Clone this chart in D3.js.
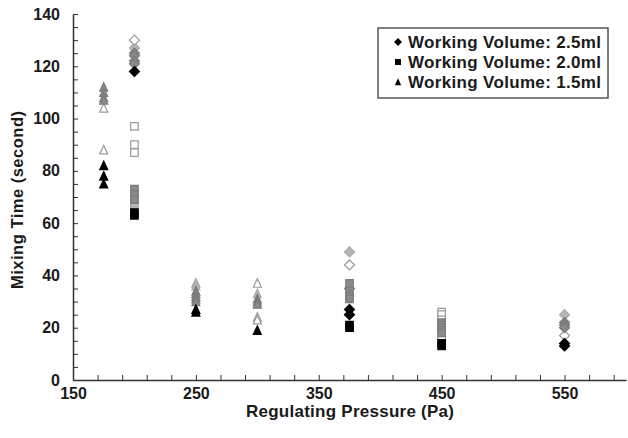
<!DOCTYPE html>
<html>
<head>
<meta charset="utf-8">
<script src="https://cdn.jsdelivr.net/npm/d3@7"></script>
<style>
  body { margin: 0; background: #fff; }
  text { font-family: "Liberation Sans", Arial, sans-serif; font-weight: bold; fill: #1a1a1a; }
  .axis path, .axis line { stroke: #333; }
</style>
</head>
<body>
<svg id="chart" width="628" height="438"></svg>
<script>
// tick labels
const xTicks = [150, 250, 350, 450, 550];
const yTicks = [0, 20, 40, 60, 80, 100, 120, 140];

// Working Volume 2.5ml (diamonds), by shade
const diamondBlack = [[200, 118], [375, 27], [375, 25], [550, 14], [550, 13]];
const diamondGray = [[200, 125], [200, 124], [200, 122], [200, 121], [375, 35], [550, 22], [550, 21], [550, 20]];
const diamondLight = [[200, 127], [375, 49], [550, 25]];
const diamondOpen = [[200, 130], [375, 44], [550, 17]];

// Working Volume 2.0ml (squares)
const squareBlack = [[200, 64], [200, 63], [375, 21], [375, 20], [450, 14], [450, 13]];
const squareGray = [[200, 73], [200, 71], [200, 69], [375, 37], [375, 33], [375, 32], [375, 31], [450, 22], [450, 21], [450, 20], [450, 19], [450, 18]];
const squareLight = [[200, 67]];
const squareOpen = [[200, 97], [200, 90], [200, 87], [450, 26], [450, 25], [450, 23], [450, 17], [450, 16]];

// Working Volume 1.5ml (triangles)
const triangleBlack = [[175, 82], [175, 78], [175, 75], [250, 27], [250, 26], [300, 19]];
const triangleGray = [[175, 112], [175, 110], [175, 108], [175, 107], [250, 34], [250, 33], [250, 32], [250, 31], [250, 30], [300, 31], [300, 30], [300, 29]];
const triangleLight = [[250, 36], [300, 33]];
const triangleOpen = [[175, 104], [175, 88], [250, 37], [300, 37], [300, 24], [300, 23]];

const legendLabels = ['Working Volume: 2.5ml', 'Working Volume: 2.0ml', 'Working Volume: 1.5ml'];

const svg = d3.select('#chart');
const margins = { left: 73, top: 14, right: 2, bottom: 58 };
const width = +svg.attr('width'), height = +svg.attr('height');

const x = d3.scaleLinear().domain([150, 600]).range([margins.left, width - margins.right]);
const y = d3.scaleLinear().domain([0, 140]).range([height - margins.bottom, margins.top]);

// excel-like diamond (square turned 45 degrees)
const diamondType = {
  draw(ctx, size) {
    const r = Math.sqrt(size / 2);
    ctx.moveTo(0, -r); ctx.lineTo(r, 0); ctx.lineTo(0, r); ctx.lineTo(-r, 0); ctx.closePath();
  }
};
const triangleType = {
  draw(ctx, size) {
    const h = Math.sqrt(size);
    ctx.moveTo(0, -h / 2 - 0.5); ctx.lineTo(h / 2, h / 2); ctx.lineTo(-h / 2, h / 2); ctx.closePath();
  }
};

const shades = {
  black: { fill: '#000', stroke: '#000' },
  gray: { fill: '#8a8a8a', stroke: '#7a7a7a' },
  light: { fill: '#b5b5b5', stroke: '#a8a8a8' },
  open: { fill: '#fff', stroke: '#9a9a9a' }
};

const series = [
  { type: diamondType, size: 50, shade: 'light', data: diamondLight },
  { type: diamondType, size: 50, shade: 'open', data: diamondOpen },
  { type: diamondType, size: 50, shade: 'gray', data: diamondGray },
  { type: diamondType, size: 50, shade: 'black', data: diamondBlack },
  { type: d3.symbolSquare, size: 56, shade: 'open', data: squareOpen },
  { type: d3.symbolSquare, size: 56, shade: 'light', data: squareLight },
  { type: d3.symbolSquare, size: 56, shade: 'gray', data: squareGray },
  { type: d3.symbolSquare, size: 56, shade: 'black', data: squareBlack },
  { type: triangleType, size: 64, shade: 'open', data: triangleOpen },
  { type: triangleType, size: 64, shade: 'light', data: triangleLight },
  { type: triangleType, size: 64, shade: 'gray', data: triangleGray },
  { type: triangleType, size: 64, shade: 'black', data: triangleBlack }
];

// y axis: minor ticks pointing inward, labels outside
svg.append('g')
  .attr('class', 'axis')
  .attr('transform', `translate(${margins.left},0)`)
  .call(d3.axisRight(y).tickValues(d3.range(0, 141, 5)).tickSize(5).tickSizeOuter(0).tickFormat(''));
svg.append('g')
  .attr('transform', `translate(${margins.left},0)`)
  .call(d3.axisLeft(y).tickValues(yTicks).tickSize(0).tickPadding(13))
  .call(g => g.select('.domain').remove())
  .selectAll('text').style('font-size', '16px').style('font-family', null);

// x axis
svg.append('g')
  .attr('class', 'axis')
  .attr('transform', `translate(0,${y(0)})`)
  .call(d3.axisTop(x).tickValues(d3.range(150, 601, 20)).tickSize(5).tickSizeOuter(0).tickFormat(''));
svg.append('g')
  .attr('transform', `translate(0,${y(0)})`)
  .call(d3.axisBottom(x).tickValues(xTicks).tickSize(0).tickPadding(8))
  .call(g => g.select('.domain').remove())
  .selectAll('text').style('font-size', '16px').style('font-family', null);
svg.selectAll('.axis .domain').style('stroke-width', 1.5);

// axis titles
svg.append('text')
  .attr('x', 350)
  .attr('y', 417)
  .attr('text-anchor', 'middle')
  .style('font-size', '17px')
  .attr('textLength', 208)
  .text('Regulating Pressure (Pa)');
svg.append('text')
  .attr('transform', `translate(23,${(y(0) + y(140)) / 2 + 3}) rotate(-90)`)
  .attr('text-anchor', 'middle')
  .style('font-size', '16.5px')
  .attr('textLength', 178)
  .text('Mixing Time (second)');

// points
series.forEach(s => {
  svg.append('g').selectAll('path')
    .data(s.data)
    .join('path')
    .attr('transform', d => `translate(${x(d[0])},${y(d[1])})`)
    .attr('d', d3.symbol().type(s.type).size(s.size))
    .style('fill', shades[s.shade].fill)
    .style('stroke', shades[s.shade].stroke)
    .style('stroke-width', 1.2);
});

// legend
const legend = svg.append('g').attr('transform', 'translate(378,28)');
legend.append('rect')
  .attr('width', 230).attr('height', 70)
  .style('fill', '#fff').style('stroke', '#555').style('stroke-width', 1.5);
const legendTypes = [diamondType, d3.symbolSquare, triangleType];
const legendSizes = [32, 36, 40];
legendLabels.forEach((lab, i) => {
  legend.append('path')
    .attr('transform', `translate(20,${14 + i * 20})`)
    .attr('d', d3.symbol().type(legendTypes[i]).size(legendSizes[i]))
    .style('fill', '#000');
  legend.append('text')
    .attr('x', 30).attr('y', 14 + i * 20)
    .attr('dy', '0.36em')
    .style('font-size', '17px')
    .attr('textLength', 193)
    .text(lab);
});
</script>
</body>
</html>
